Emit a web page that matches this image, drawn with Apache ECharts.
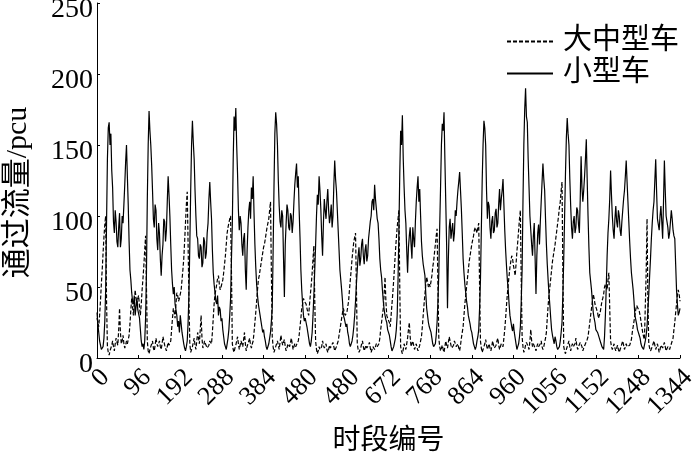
<!DOCTYPE html>
<html>
<head>
<meta charset="utf-8">
<script src="https://cdn.jsdelivr.net/npm/echarts@6/dist/echarts.min.js"></script>
<style>
html,body{margin:0;padding:0;background:#fff;}
#chart{width:700px;height:457px;}
</style>
</head>
<body>
<div id="chart"></div>
<script>
// time step between samples (in period index units)
var step = 2;
var seriesNames = ['大中型车', '小型车'];
var xTickLabels = ['0','96','192','288','384','480','480','672','768','864','960','1056','1152','1248','1344'];
var yTickLabels = ['0','50','100','150','200','250'];

// 小型车 (solid), one row per day (48 samples each), plus final sample
var smallCar = [
 32,24,18,12,9,6,5,8,14,26,48,95,140,162,166,150,158,132,120,96,88,104,96,82,78,92,102,78,84,100,95,108,122,138,150,128,108,82,62,55,46,40,38,44,30,36,42,34,
 35,28,20,12,8,10,6,12,28,60,112,150,174,160,150,136,118,98,92,108,104,84,76,95,88,70,58,72,80,98,96,82,90,110,128,115,100,80,62,52,45,50,38,34,30,22,26,18,
 30,24,18,14,10,7,5,8,12,25,45,80,118,150,167,152,140,118,100,86,84,72,70,80,78,64,67,85,82,70,74,88,95,112,124,110,98,76,60,52,46,40,38,44,30,36,34,26,
 28,20,15,10,8,6,10,14,20,30,42,70,95,140,170,160,176,150,130,104,90,100,95,80,72,84,88,62,48,75,92,104,110,98,120,112,128,102,80,64,52,44,38,34,30,26,22,18,
 20,15,12,8,6,7,10,14,18,26,35,75,120,158,173,165,150,125,107,96,92,104,100,70,43,80,95,108,104,92,90,102,100,88,96,110,122,130,137,120,128,104,85,62,48,38,30,26,
 28,25,22,18,14,10,8,12,18,30,45,62,80,100,115,108,128,118,105,86,72,95,112,104,98,110,119,104,95,100,108,92,100,122,139,126,118,104,90,76,62,55,48,40,30,28,25,22,
 24,18,15,10,8,9,12,16,22,30,40,52,62,72,78,65,70,80,84,72,66,76,80,68,72,84,90,96,100,110,112,104,122,112,105,98,95,84,70,62,57,48,40,34,30,27,25,20,
 20,16,12,8,5,6,8,11,14,20,30,55,90,130,160,150,171,140,120,104,95,76,60,78,86,92,80,70,92,84,78,96,110,120,128,110,119,100,82,72,66,62,58,45,35,30,25,22,
 22,18,14,10,8,7,10,16,25,40,60,92,120,150,165,160,173,140,110,80,35,70,92,98,84,90,95,82,88,104,100,110,118,124,131,118,105,88,70,60,52,46,40,36,30,27,24,20,
 18,14,10,8,6,8,12,15,20,35,55,90,125,150,167,162,150,118,98,110,107,92,84,96,100,88,90,102,105,92,95,108,119,104,112,118,126,108,90,76,65,55,48,38,30,26,22,19,
 24,18,14,10,6,8,10,15,22,40,62,110,150,175,190,170,166,140,120,100,90,80,72,86,95,70,45,72,88,94,80,96,110,124,137,126,118,98,80,66,55,45,37,28,20,16,13,10,
 15,12,8,6,5,8,12,18,25,45,70,100,130,155,169,158,150,126,107,92,84,96,100,88,92,106,104,94,88,112,142,120,110,118,128,140,154,126,100,78,60,54,48,40,32,28,25,20,
 20,18,18,14,12,10,8,7,6,15,30,50,72,88,98,112,132,115,100,90,84,98,107,96,92,104,100,90,86,96,104,112,118,128,139,124,110,96,82,70,60,54,48,40,30,27,24,20,
 18,16,14,10,8,7,6,9,12,16,22,34,45,58,70,84,95,104,110,125,140,118,98,94,90,100,107,96,84,110,139,118,100,96,92,84,88,96,104,98,90,86,84,66,48,38,30,32,
 35
];

// 大中型车 (dashed)
var bigCar = [
 28,25,22,30,40,52,62,74,85,94,100,40,8,4,2,5,6,9,12,8,5,10,14,11,9,20,35,18,10,12,16,10,7,9,12,10,9,16,24,34,42,36,30,40,48,42,38,42,
 44,36,30,38,48,56,65,76,86,50,12,5,3,6,8,10,12,7,5,9,14,10,8,10,12,8,6,10,15,12,9,7,5,8,11,9,8,12,20,28,35,32,28,38,46,44,40,42,
 42,48,55,62,70,82,95,108,117,80,40,10,4,6,8,11,14,9,6,12,18,14,10,20,30,14,7,9,12,10,9,7,6,9,12,11,10,18,28,38,45,48,52,56,58,52,48,50,
 50,55,60,66,72,80,88,92,95,98,100,60,10,6,4,7,9,12,15,10,6,9,12,10,8,13,18,10,5,8,10,12,14,9,7,10,12,18,25,32,40,48,55,58,62,66,70,74,
 78,80,84,88,92,95,98,104,110,60,15,8,4,6,8,10,12,9,6,11,16,12,9,11,13,8,5,7,10,9,8,11,14,10,6,8,10,8,7,9,12,16,22,28,35,38,42,40,
 40,38,35,32,30,38,45,52,60,70,79,40,12,6,3,5,8,6,5,8,12,9,7,8,10,6,4,6,9,7,6,8,11,8,5,6,8,10,12,16,20,24,28,32,35,32,30,31,
 32,36,40,48,55,62,70,76,82,85,88,50,10,6,4,5,7,10,12,8,5,7,9,7,6,9,11,7,4,6,8,7,6,8,10,8,7,10,14,20,25,30,35,45,57,40,30,28,
 28,25,22,30,38,46,55,65,75,84,92,98,104,50,8,5,3,6,10,8,6,10,14,20,25,15,8,10,12,9,6,8,10,7,5,7,9,12,15,22,30,38,45,52,57,54,50,52,
 50,54,58,64,68,74,80,86,91,50,14,8,5,7,9,6,4,8,12,9,7,11,15,12,9,7,6,9,12,10,8,9,10,7,5,9,14,18,22,30,38,44,50,56,62,68,72,76,
 80,83,86,90,92,90,88,92,95,50,12,7,4,6,8,10,13,9,6,8,10,7,5,8,12,9,7,8,9,12,14,9,6,8,10,9,8,14,20,28,37,45,52,58,64,68,72,70,
 65,62,58,66,75,82,90,98,104,55,15,8,4,6,9,11,12,8,6,12,20,12,8,10,11,7,5,8,10,8,7,10,12,8,6,8,9,14,18,28,37,44,50,56,62,68,72,76,
 80,85,90,95,100,106,110,118,124,60,8,5,3,6,8,10,12,8,5,8,10,8,7,10,14,9,6,8,9,11,12,8,5,7,8,10,11,13,15,20,25,30,35,40,45,42,38,36,
 35,32,28,30,32,36,40,42,45,50,52,50,48,55,60,35,12,8,6,8,10,7,5,7,9,6,4,6,8,10,12,9,6,8,10,8,7,8,9,11,13,18,22,26,30,34,37,36,
 36,33,30,26,22,18,15,13,12,60,98,40,10,7,5,6,8,10,12,9,6,8,10,7,4,6,9,8,7,9,11,8,5,6,8,7,6,8,10,12,14,20,25,32,38,44,48,45,
 40
];

function toPairs(arr){ return arr.map(function(v,i){ return [i*step, v]; }); }

var serif = '"Liberation Serif", "Noto Sans CJK SC", serif';
var chart = echarts.init(document.getElementById('chart'), null, {renderer:'canvas'});
chart.setOption({
  animation: false,
  backgroundColor: '#fff',
  grid: {left: 97, right: 20, top: 3, bottom: 99, containLabel: false, outerBoundsMode: 'none'},
  legend: {
    orient: 'vertical', left: 501, top: 22, itemWidth: 46, itemHeight: 10, itemGap: 3,
    itemStyle: {opacity: 0, borderWidth: 0},
    textStyle: {fontFamily: serif, fontSize: 29, color: '#000', padding:[0,0,0,5]},
    data: [seriesNames[0], seriesNames[1]]
  },
  xAxis: {
    type: 'value', min: 0, max: 1344, interval: 96,
    name: '时段编号', nameLocation: 'middle', nameGap: 70,
    nameTextStyle: {fontFamily: serif, fontSize: 28, color: '#000'},
    axisLine: {lineStyle: {color: '#000', width: 1}},
    axisTick: {show: true, inside: true, length: 3, lineStyle: {color: '#000'}},
    splitLine: {show: false},
    axisLabel: {rotate: 45, margin: 7, fontFamily: serif, fontSize: 26, color: '#000',
      verticalAlign: 'top', lineHeight: 24,
      formatter: function(v){ return xTickLabels[Math.round(v/96)]; }}
  },
  yAxis: {
    type: 'value', min: 0, max: 250, interval: 50,
    name: '通过流量/pcu', nameLocation: 'middle', nameGap: 64,
    nameTextStyle: {fontFamily: serif, fontSize: 30, color: '#000', padding: [0, 24, 0, 0]},
    axisLine: {show: true, lineStyle: {color: '#000', width: 1}},
    axisTick: {show: true, inside: true, length: 3, lineStyle: {color: '#000'}},
    splitLine: {show: false},
    axisLabel: {margin: 4, fontFamily: serif, fontSize: 28, color: '#000',
      verticalAlign: 'top', lineHeight: 14,
      formatter: function(v){ return yTickLabels[Math.round(v/50)]; }}
  },
  series: [
    {name: seriesNames[0], type: 'line', data: toPairs(bigCar), symbol: 'none',
     lineStyle: {color: '#000', width: 1.2, type: [4, 2]}, itemStyle: {color: '#000'}},
    {name: seriesNames[1], type: 'line', data: toPairs(smallCar), symbol: 'none',
     lineStyle: {color: '#000', width: 1.2, type: 'solid'}, itemStyle: {color: '#000'}}
  ]
});
</script>
</body>
</html>
